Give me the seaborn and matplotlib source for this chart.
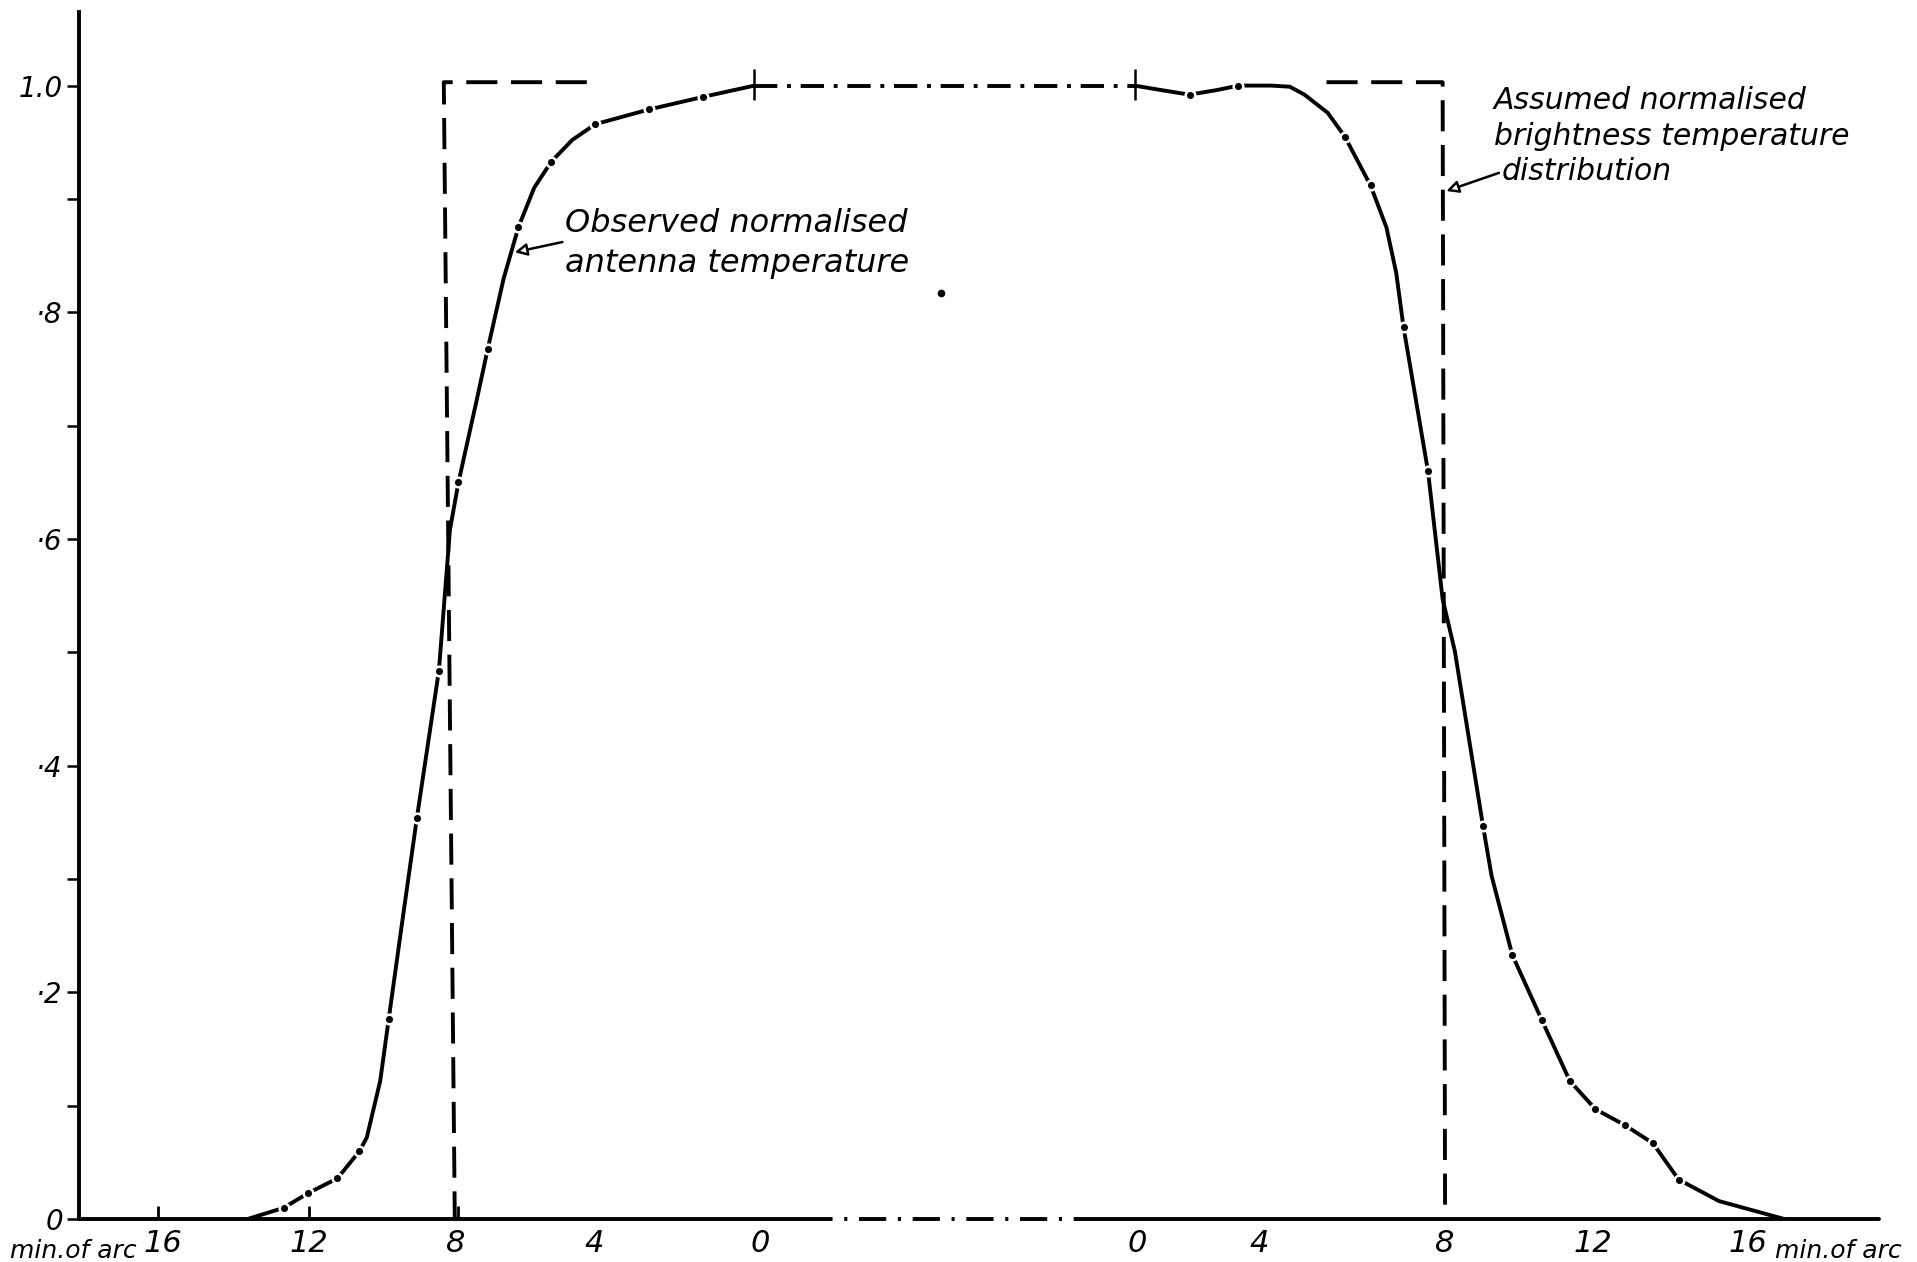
import numpy as np
import pandas as pd
import seaborn as sns
import matplotlib.pyplot as plt

# -------------------------------------------------------
# Data
# x = position along the drawn axis (the two halves have their own 0)
left_x = [202, 232, 252, 276, 294, 300, 311, 318, 330, 341, 359, 368, 375, 390,
          399, 412, 424, 437, 451, 468, 487, 531, 575, 617]
left_y = [0, 0.010, 0.023, 0.036, 0.060, 0.072, 0.122, 0.177, 0.27, 0.354, 0.484,
          0.608, 0.650, 0.723, 0.768, 0.83, 0.875, 0.91, 0.933, 0.952, 0.966,
          0.979, 0.990, 1.0]

right_x = [928, 950, 973, 995, 1013, 1040, 1055, 1067, 1086, 1100, 1121, 1134,
           1142, 1148, 1168, 1180, 1190, 1213, 1220, 1237, 1261, 1284, 1305, 1329,
           1352, 1373, 1406, 1460]
right_y = [1.0, 0.996, 0.992, 0.996, 1.0, 1.0, 0.999, 0.992, 0.976, 0.955, 0.912,
           0.875, 0.835, 0.787, 0.66, 0.547, 0.501, 0.347, 0.303, 0.233, 0.176,
           0.122, 0.097, 0.083, 0.067, 0.035, 0.016, 0]

# flat top between the two zero marks
gap_x = [617, 928]
gap_y = [1.0, 1.0]

# observed points (dots on the curve)
dots_x = [232, 252, 276, 294, 318, 341, 359, 375, 399, 424, 451, 487, 531, 575,
          973, 1013, 1100, 1121, 1148, 1168, 1213, 1237, 1261, 1284, 1305, 1329,
          1352, 1373]
dots_y = [0.010, 0.023, 0.036, 0.060, 0.177, 0.354, 0.484, 0.650, 0.768, 0.875,
          0.933, 0.966, 0.979, 0.990, 0.992, 1.0, 0.955, 0.912, 0.787, 0.66,
          0.347, 0.233, 0.176, 0.122, 0.097, 0.083, 0.067, 0.035]

# assumed brightness distribution (rectangle, drawn in two pieces)
rect_left_x = [480, 363, 372]
rect_left_y = [1.003, 1.003, 0]
rect_right_x = [1085, 1180, 1182]
rect_right_y = [1.003, 1.003, 0]

# axis ticks / labels
xtick_pos = [133, 253, 373, 486, 622, 930, 1030, 1182, 1303, 1430]
xtick_labels = ['16', '12', '8', '4', '0', '0', '4', '8', '12', '16']
ytick_pos = [0, 0.1, 0.2, 0.3, 0.4, 0.5, 0.6, 0.7, 0.8, 0.9, 1.0]
ytick_labels = ['0', '', '·2', '', '·4', '', '·6', '', '·8', '', '1.0']

# -------------------------------------------------------
sns.set_style('white')
plt.rcParams['font.family'] = ['DejaVu Sans']
plt.rcParams['text.color'] = 'black'
plt.rcParams['xtick.color'] = 'black'
plt.rcParams['ytick.color'] = 'black'

fig = plt.figure(figsize=(19.17, 12.62), dpi=100)
ax = fig.add_axes([65 / 1568, 1 - 997 / 1032, (1537 - 65) / 1568, (997 - 10) / 1032])

LW = 2.8

# observed antenna temperature
sns.lineplot(x=left_x, y=left_y, ax=ax, color='black', lw=LW, sort=False, estimator=None)
sns.lineplot(x=right_x, y=right_y, ax=ax, color='black', lw=LW, sort=False, estimator=None)
sns.lineplot(x=gap_x, y=gap_y, ax=ax, color='black', lw=LW, linestyle=(0, (6, 2.5, 1, 2.5)))
sns.scatterplot(x=dots_x, y=dots_y, ax=ax, color='black', s=48,
                edgecolor='white', linewidth=1.8, zorder=5)

# assumed brightness temperature
sns.lineplot(x=rect_left_x, y=rect_left_y, ax=ax, color='black', lw=LW,
             sort=False, estimator=None, linestyle=(0, (8, 3.5)))
sns.lineplot(x=rect_right_x, y=rect_right_y, ax=ax, color='black', lw=LW,
             sort=False, estimator=None, linestyle=(0, (8, 3.5)))

# hand-drawn x axis: solid, broken (dash-dot) between the two zeros, solid again
ax.plot([65, 668], [0, 0], color='black', lw=LW, clip_on=False, solid_capstyle='butt')
ax.plot([668, 882], [0, 0], color='black', lw=LW, linestyle=(3, (7, 3, 0.8, 3)),
        clip_on=False)
ax.plot([882, 1537], [0, 0], color='black', lw=LW, clip_on=False)
ax.vlines([129, 253, 375], 0, 0.012, color='black', lw=2)
ax.vlines([617, 928], 0.987, 1.015, color='black', lw=1.8)

ax.set_xlim(65, 1537)
ax.set_ylim(0, 987 / 927)

ax.set_xticks(xtick_pos)
ax.set_xticklabels(xtick_labels, fontsize=22, style='italic')
ax.tick_params(axis='x', length=0, pad=7)
ax.set_yticks(ytick_pos)
ax.set_yticklabels(ytick_labels, fontsize=20, style='italic')
ax.tick_params(axis='y', length=9, width=1.8, direction='out', pad=3, left=True)

for side in ['top', 'right', 'bottom']:
    ax.spines[side].set_visible(False)
ax.spines['left'].set_linewidth(LW)
ax.spines['left'].set_color('black')
ax.set_xlabel('')
ax.set_ylabel('')

ax.text(112, -0.028, 'min.of arc', ha='right', va='center', fontsize=18, style='italic')
ax.text(1452, -0.028, 'min.of arc', ha='left', va='center', fontsize=18, style='italic')

# annotations
ax.text(462, 0.878, 'Observed normalised', ha='left', va='center',
        fontsize=23, style='italic')
ax.text(462, 0.843, 'antenna temperature', ha='left', va='center',
        fontsize=23, style='italic')
ax.plot([770], [0.817], 'o', color='black', ms=4.5)
ax.annotate('', xy=(421, 0.853), xytext=(460, 0.862),
            arrowprops=dict(arrowstyle='-|>', color='black', lw=1.8, fc='white',
                            mutation_scale=18, shrinkA=0, shrinkB=0))

ax.text(1222, 0.987, 'Assumed normalised', ha='left', va='center',
        fontsize=21.5, style='italic')
ax.text(1222, 0.955, 'brightness temperature', ha='left', va='center',
        fontsize=21.5, style='italic')
ax.text(1228, 0.924, 'distribution', ha='left', va='center', fontsize=21.5, style='italic')
ax.annotate('', xy=(1183, 0.907), xytext=(1226, 0.923),
            arrowprops=dict(arrowstyle='-|>', color='black', lw=1.8, fc='white',
                            mutation_scale=18, shrinkA=0, shrinkB=0))

fig.savefig('out.png', dpi=100)
